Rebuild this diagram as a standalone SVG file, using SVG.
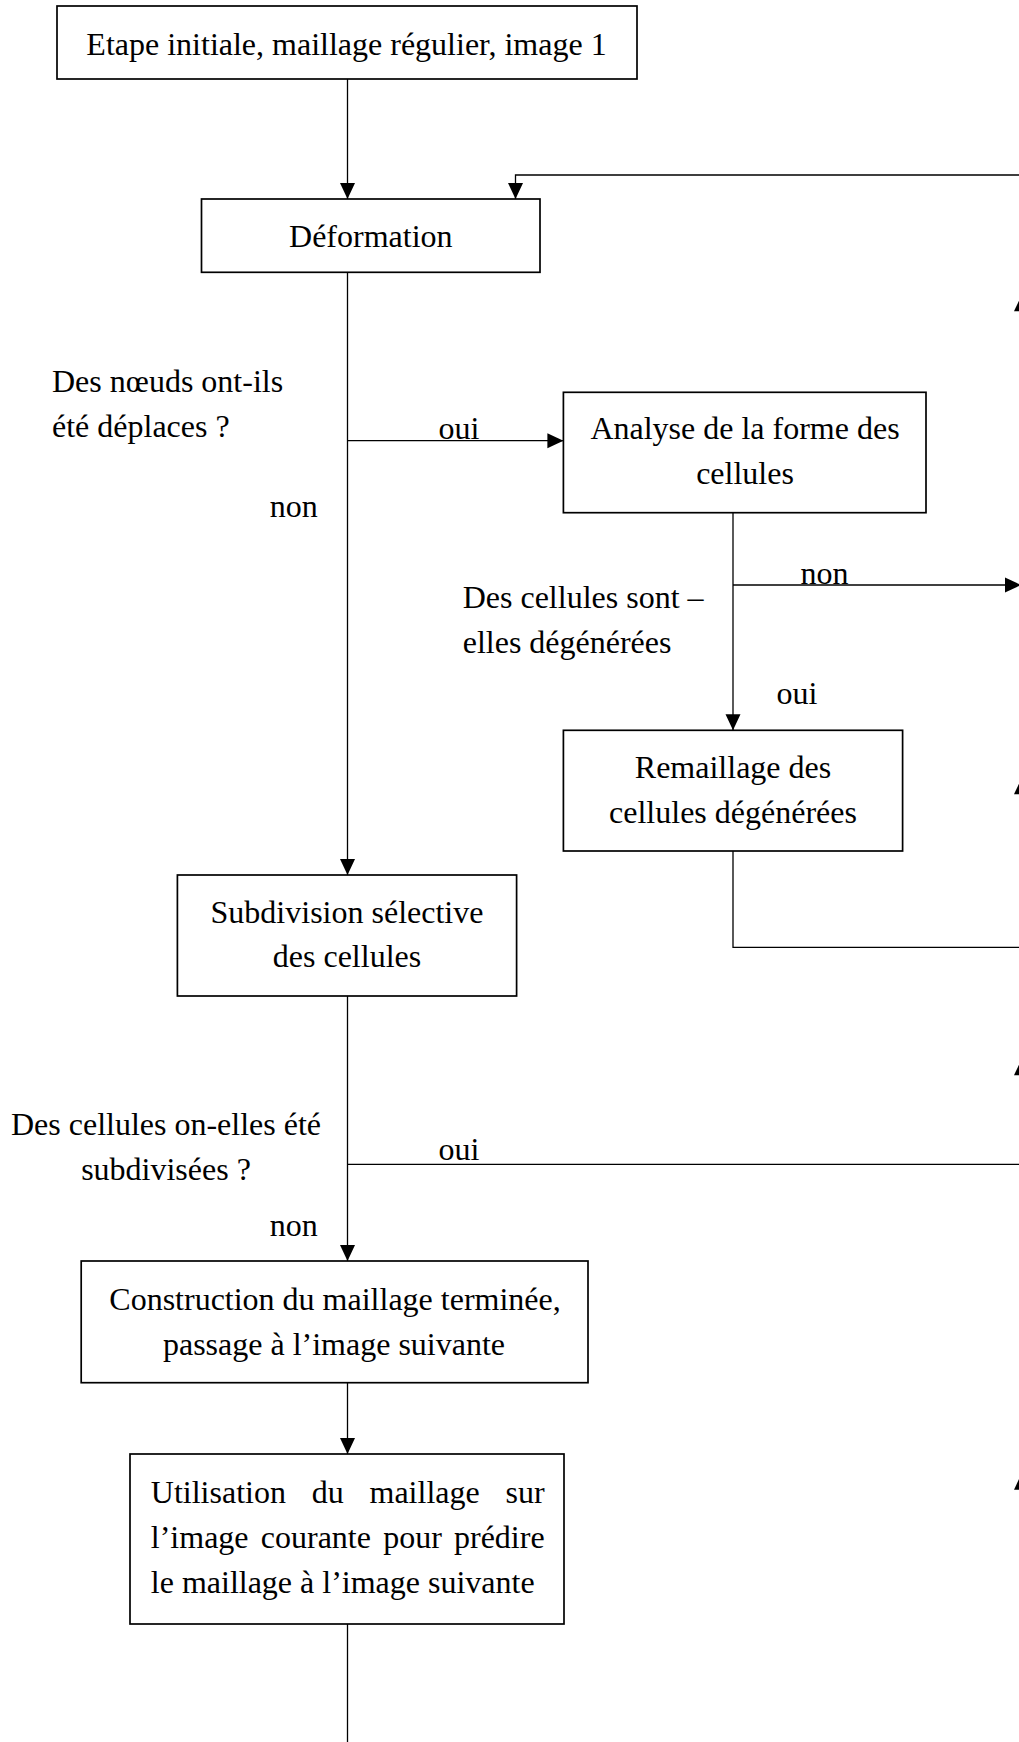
<svg xmlns="http://www.w3.org/2000/svg" width="1019" height="1742" viewBox="0 0 1019 1742">
  <style>
    .box { fill: #ffffff; stroke: #000000; stroke-width: 1.7; }
    .wire { fill: none; stroke: #000000; stroke-width: 1.3; }
    .head { fill: #000000; stroke: none; }
    text { font-family: "Liberation Serif", "Times New Roman", serif; font-size: 32px; fill: #000000; }
    .c { text-anchor: middle; }
  </style>
  <defs>
    <marker id="arrow" markerUnits="userSpaceOnUse" markerWidth="18" markerHeight="18" refX="16" refY="8" orient="auto" viewBox="0 0 18 16">
      <path d="M0,0.5 L16,8 L0,15.5 Z" fill="#000000"/>
    </marker>
  </defs>

  <rect width="1019" height="1742" fill="#ffffff"/>

  <!-- connectors -->
  <g id="connectors">
    <path class="wire" d="M347.5,79 V199" marker-end="url(#arrow)"/>
    <path class="wire" d="M1021.5,175 H515.5 V199" marker-end="url(#arrow)"/>
    <path class="wire" d="M347.5,272.5 V875" marker-end="url(#arrow)"/>
    <path class="wire" d="M347.5,440.7 H563.4" marker-end="url(#arrow)"/>
    <path class="wire" d="M733,512.7 V730.3" marker-end="url(#arrow)"/>
    <path class="wire" d="M733,585 H1021" marker-end="url(#arrow)"/>
    <path class="wire" d="M733,851 V947.3 H1021.5"/>
    <path class="wire" d="M347.5,996 V1261" marker-end="url(#arrow)"/>
    <path class="wire" d="M347.5,1164.3 H1021.5"/>
    <path class="wire" d="M347.5,1382.7 V1454" marker-end="url(#arrow)"/>
    <path class="wire" d="M347.5,1624 V1742"/>
    <!-- upward heads of the return line along the right edge -->
    <path class="head" d="M1021.5,295.3 L1029,311.3 L1014,311.3 Z"/>
    <path class="head" d="M1021.5,778.3 L1029,794.3 L1014,794.3 Z"/>
    <path class="head" d="M1021.5,1059.3 L1029,1075.3 L1014,1075.3 Z"/>
    <path class="head" d="M1021.5,1473.7 L1029,1489.7 L1014,1489.7 Z"/>
  </g>

  <!-- edge labels and questions -->
  <g id="labels">
    <text x="52" y="391.7">Des nœuds ont-ils</text>
    <text x="52" y="436.7">été déplaces ?</text>
    <text x="438.6" y="439.3">oui</text>
    <text x="269.7" y="517.3">non</text>
    <text x="800.6" y="584">non</text>
    <text x="462.7" y="608.3">Des cellules sont –</text>
    <text x="462.7" y="652.7">elles dégénérées</text>
    <text x="776.5" y="704">oui</text>
    <text class="c" x="166" y="1135">Des cellules on-elles été</text>
    <text class="c" x="166" y="1180">subdivisées ?</text>
    <text x="438.6" y="1160">oui</text>
    <text x="269.7" y="1235.7">non</text>
  </g>

  <g id="node-etape">
    <rect class="box" x="57" y="6" width="580" height="73"/>
    <text class="c" x="346.5" y="55">Etape initiale, maillage régulier, image 1</text>
  </g>

  <g id="node-deformation">
    <rect class="box" x="201.5" y="199" width="338.5" height="73.3"/>
    <text class="c" x="370.8" y="247.3">Déformation</text>
  </g>

  <g id="node-analyse">
    <rect class="box" x="563.4" y="392.3" width="362.6" height="120.4"/>
    <text class="c" x="745" y="439.3">Analyse de la forme des</text>
    <text class="c" x="745" y="484">cellules</text>
  </g>

  <g id="node-remaillage">
    <rect class="box" x="563.4" y="730.3" width="339.2" height="120.7"/>
    <text class="c" x="733" y="778.3">Remaillage des</text>
    <text class="c" x="733" y="823.3">cellules dégénérées</text>
  </g>

  <g id="node-subdivision">
    <rect class="box" x="177.4" y="875" width="339.2" height="121"/>
    <text class="c" x="347" y="923.3">Subdivision sélective</text>
    <text class="c" x="347" y="967.3">des cellules</text>
  </g>

  <g id="node-construction">
    <rect class="box" x="81.2" y="1261" width="506.8" height="121.7"/>
    <text class="c" x="335" y="1310">Construction du maillage terminée,</text>
    <text class="c" x="334" y="1355">passage à l’image suivante</text>
  </g>

  <g id="node-utilisation">
    <rect class="box" x="130" y="1454" width="434" height="170"/>
    <!-- justified lines: each word placed on its own -->
    <text y="1503.3"><tspan x="150.8">Utilisation </tspan><tspan x="311.7">du </tspan><tspan x="369.5">maillage </tspan><tspan x="544.6" text-anchor="end">sur</tspan></text>
    <text y="1548.3"><tspan x="150.8">l’image </tspan><tspan x="260.8">courante </tspan><tspan x="383.2">pour </tspan><tspan x="544.6" text-anchor="end">prédire</tspan></text>
    <text x="150.8" y="1593.3">le maillage à l’image suivante</text>
  </g>
</svg>
